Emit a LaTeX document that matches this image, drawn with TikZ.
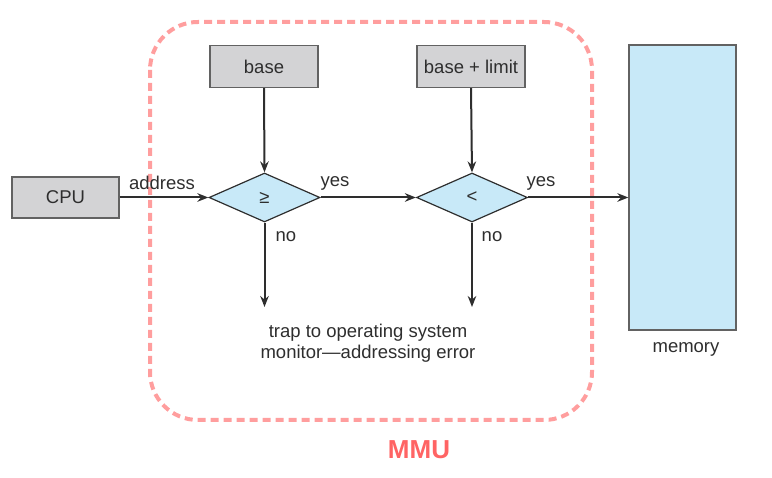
\documentclass[tikz,border=0pt]{standalone}
\usepackage{fontspec}
\setmainfont{Liberation Sans}
\usetikzlibrary{shapes.geometric,arrows.meta}
\definecolor{boxgray}{HTML}{D3D3D5}
\definecolor{lblue}{HTML}{C8E9F8}
\definecolor{edge}{HTML}{2E2E2E}
\definecolor{mmured}{HTML}{FF9E9E}
\definecolor{mmutext}{HTML}{FF6464}
\tikzset{
  graybox/.style={draw=edge!75, line width=1.2pt, fill=boxgray, minimum width=108pt, minimum height=42pt, inner sep=0pt, font=\fontsize{18.5}{22}\selectfont, text=edge},
  decision/.style={diamond, draw=edge, line width=1.2pt, fill=lblue, minimum width=111pt, minimum height=49pt, inner sep=0pt, font=\fontsize{18.5}{22}\selectfont, text=edge},
  conn/.style={draw=edge, line width=2pt, -{Stealth[length=11pt,width=8.5pt]}},
  lbl/.style={font=\fontsize{18.5}{22}\selectfont, text=edge, inner sep=0pt}
}
\begin{document}
\begin{tikzpicture}[x=1pt,y=-1pt]
\useasboundingbox (0,0) rectangle (772,478);
% MMU boundary
\draw[mmured, line width=4pt, dash pattern=on 8pt off 5pt, rounded corners=48pt] (150,22) rectangle (592,420);
\node[font=\fontsize{26}{30}\selectfont\bfseries, text=mmutext] (mmu) at (419,450) {MMU};
% nodes
\node[graybox, minimum width=107pt, minimum height=41pt] (cpu) at (65.5,197.5) {CPU};
\node[graybox] (base) at (264,66.5) {base};
\node[graybox] (bl) at (471,66.5) {base + limit};
\node[decision] (d1) at (264.5,197.5) {≥};
\node[decision] (d2) at (472,197.5) {<};
\node[draw=edge!75, line width=1.2pt, fill=lblue, minimum width=107pt, minimum height=285pt, inner sep=0pt] (mem) at (682.5,187.5) {};
\node[lbl] (memlbl) at (686,349) {memory};
\node[lbl, align=center, font=\fontsize{18.5}{20.5}\selectfont] (trap) at (368,343) {trap to operating system\\monitor—addressing error};
% trap arrow ends
\coordinate (t1) at (264.5,307);
\coordinate (t2) at (472,307);
% connectors
\draw[conn] (cpu.east) -- (d1.west);
\node[lbl] (addr) at (162,183) {address};
\draw[conn] (base.south) -- (d1.north);
\draw[conn] (bl.south) -- (d2.north);
\draw[conn] (d1.east) -- (d2.west);
\draw[conn] (d2.east) -- (d2.east -| mem.west);
\draw[conn] (d1.south) -- (t1);
\draw[conn] (d2.south) -- (t2);
% labels
\node[lbl] (yes1) at (335,183) {yes};
\node[lbl] (yes2) at (541,183) {yes};
\node[lbl] (no1) at (286,237) {no};
\node[lbl] (no2) at (492,237) {no};
\end{tikzpicture}
\end{document}
